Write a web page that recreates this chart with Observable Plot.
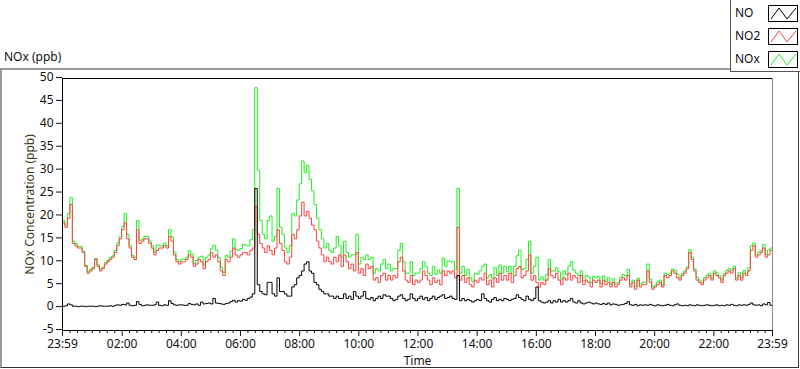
<!DOCTYPE html>
<html><head><meta charset="utf-8">
<script src="https://cdn.jsdelivr.net/npm/d3@7"></script>
<script src="https://cdn.jsdelivr.net/npm/@observablehq/plot@0.6"></script>
<style>
body{margin:0;background:#fff;font-family:"Noto Sans",sans-serif;}
#wrap{position:relative;width:800px;height:369px;overflow:hidden;background:#fff;}
#panel{position:absolute;left:0;top:68px;width:799px;height:300px;border-top:2px solid #9a9a9a;border-left:2px solid #9a9a9a;border-right:1px solid #333;border-bottom:1px solid #333;box-sizing:border-box;}
#title{position:absolute;left:4px;top:48px;font-size:12px;color:#111;}
#legend{position:absolute;left:730px;top:0;width:70px;height:72px;border-left:1px solid #555;border-bottom:1px solid #555;background:#fff;box-sizing:border-box;}
.lrow{position:absolute;left:4px;font-size:12px;color:#111;}
.lbox{position:absolute;left:37px;width:30px;height:17px;border:1px solid #000;box-sizing:border-box;background:#fff;}
#plot{position:absolute;left:0;top:0;}
</style>
</head><body>
<div id="wrap">
  <div id="panel"></div>
  <div id="title">NOx (ppb)</div>
  <div id="plot"></div>
  <div id="legend"></div>
</div>
<script>
// 5-minute readings starting at 23:59 (one row per hour)
const STEP_MIN = 5;
const NO2 = [
18.5,17.5,19.5,22.5,14,13.5,13,13,12,9,7.5,8,
8.5,10.5,9,8,8.5,9.5,10,10.5,11,12,13.5,15,
17,18.5,15,13,11,10.5,17,14,14.5,15,15,14,
13,11.5,12.5,13,13,13.5,13,15.5,14.5,11.5,10,9.5,
10,10,10.5,11.5,11,9,9.5,10.5,10,8.5,10,10.5,
12,11,11.5,10,8,7,10.5,10,11,13,11.5,11,
11.5,12,12,11.5,12.5,13,22,16,14,13,12,13.5,
12.5,11.5,13,17,14,12.5,10,9.5,11,16,15,17,
20,23,20,21,19.5,18,17,14.5,13,11.5,10,11,
10,9.5,11,10,11.5,9,11.5,10,8.5,9.5,8,12,
7.5,8.5,7,9.5,8.5,9,6,6.5,5.5,7,7.5,6,
7,6,7,6.5,10,11,8,6,5.5,7,5,6,
5.5,6,8,7,6,5,6.5,5.5,6,5,8,7,
8,7.5,8,6.5,17.5,6,7,5.5,6.5,5,4.5,6,
5.5,6.5,6,7.5,5,6,4.5,6.5,5.5,7.5,6,7,
6,7.5,5.5,7,8.5,9,6.5,7,8,11.5,6,7,
5.5,4.5,5.5,5,6,8.5,7,6.5,7.5,6,5,6.5,
6,7.5,6,7,6.5,5.5,7,5,6,5.5,4.5,6,
5.5,6,4.5,6,5,5.5,4.5,5.5,4.5,5,6,6.5,
6,7,4.5,5.5,4,6,4.5,5,5,8,5.5,4,
4.5,5,5.5,4.5,7,6.5,7,8,7.5,6.5,6,7,
7.5,8.5,12,10.5,8,6,5.5,5,6,6.5,7,6,
7.5,7,6.5,5.5,7,7.5,8,7.5,8.5,6,7,6,
7.5,7,8,12.5,13.5,11,11.5,12,13,11,11.5,12.5,
12];
const NO = [
0.3,0.4,0.8,0.6,0.3,0.3,0.2,0.3,0.3,0.2,0.3,0.3,
0.3,0.2,0.3,0.4,0.3,0.3,0.3,0.4,0.3,0.5,0.6,0.5,
0.7,0.6,1.0,0.5,0.4,0.5,1.3,0.7,0.4,0.5,0.6,0.5,
0.5,0.6,1.2,0.5,0.4,0.6,0.5,1.5,0.9,0.6,0.5,0.6,
0.6,0.5,0.5,0.9,0.7,0.6,0.8,0.5,1.2,0.8,0.9,1.0,
0.8,2.0,1.0,0.9,0.8,0.7,0.9,1.0,1.3,1.6,1.2,1.5,
1.4,1.8,1.6,2.0,2.3,3.0,26,5,3.5,3,2.8,5.5,
5.5,3,2.5,6.5,3.5,3.5,3,2.5,2.5,4.5,5,6.5,
7,8,9.5,10,8,7.5,5.5,5,4,3.5,3,3,
2.5,2.5,2,2.5,2,2,3,2,2.5,1.8,3.5,2.5,
2,2.5,3.5,2,1.8,2.2,1.5,2,2.5,2,2.8,2.5,
2.5,2,1.5,1.8,2.5,2.8,2,1.5,1.8,3,2,1.5,
2,2.5,1.8,2.2,1.5,2,2.5,1.8,2.2,2.5,2.8,2,
2.2,2.5,2,1.8,7,1.5,2,1.5,1.8,1.5,1.2,1.5,
1.8,1.5,3,2,1.5,1.2,1.8,2.2,1.5,1.8,1.5,2.0,
1.8,1.5,1.8,2,2.8,2.2,1.8,1.5,2.5,1.8,1.5,2,
4.5,1.5,1.2,1,1.2,1.5,1,1.5,1.2,1.8,1.2,1.5,
1.2,1.5,2,1.2,1,1.5,1,0.8,1,1.2,1,0.8,
1,0.8,0.7,0.9,0.7,1,0.6,0.8,0.7,0.5,0.6,0.7,
0.9,1.3,0.6,0.5,0.7,0.4,0.6,0.5,0.6,0.5,0.7,0.5,
0.4,0.6,0.5,0.4,0.5,0.7,0.5,0.4,0.6,0.8,0.5,0.4,
0.5,0.4,0.6,0.5,0.4,0.6,0.5,0.4,0.5,0.6,0.5,0.4,
0.5,0.6,0.4,0.5,0.4,0.6,0.5,0.7,0.5,0.4,0.6,0.5,
0.6,0.5,0.7,1.0,0.6,0.5,0.6,0.4,0.8,0.6,1.1,0.5,
0.5];
const NOX = [
19,18,20.5,24,14.5,14,13.3,13.3,12.3,9.2,7.8,8.3,
8.8,10.7,9.3,8.4,8.8,9.8,10.3,10.9,11.3,12.5,14.1,15.5,
17.7,20.5,16,13.5,11.4,11,19,14.7,14.9,15.5,15.6,14.5,
13.5,12.1,13.7,13.5,13.4,14.1,13.5,17,15.4,12.1,10.5,10.1,
10.6,10.5,11,12.4,11.7,9.6,10.3,11,11.2,9.3,10.9,11.5,
12.8,13.6,12.5,10.9,8.8,7.7,11.4,11,12.3,15,12.7,12.5,
12.9,13.8,13.6,13.5,14.8,17,48,30,19,16,15,19,
20,14.5,15.5,26,17.5,16,13,12,13.5,20.5,20,23.5,
27,32,29.5,31,28,25.5,22.5,19.5,17,15,13,14,
12.5,12,13,15.5,13.5,11,14.5,12,11,11.5,11.5,16,
9.5,11,10.5,11.5,10.5,11,7.5,8.5,8,9.5,10.5,8.5,
9.5,8,8.5,8.5,12.5,14,10,7.5,7.5,10,7,7.5,
7.5,8.5,10,9,7.5,7,9,7.3,8.2,7.5,10.8,9,
10.2,10,10,8.3,26,7.5,9,7,8.3,6.5,5.7,7.5,
7.3,8,9,9.5,6.5,7.2,6.3,8.7,7,9.3,7.5,9,
7.8,9,7.3,9,11.3,12.5,8.3,8.5,10.5,14.5,7.5,9,
11,6,6.7,6,7.2,10.5,8,8,8.7,7.8,6.2,8,
7.2,9,10,8.2,7.5,7,8,5.8,7,6.7,5.5,6.8,
6.5,6.8,5.2,6.9,5.7,6.5,5.1,6.3,5.2,5.5,6.6,7.2,
6.9,8.3,5.1,6,4.7,6.4,5.1,5.5,5.6,9.5,6.2,4.5,
4.9,5.6,6,4.9,7.5,7.2,7.5,8.4,8.1,7.3,6.5,7.4,
8,8.9,12.6,11,8.4,6.6,6,5.4,6.5,7.1,7.5,6.4,
8,7.6,6.9,6,7.4,8.1,8.5,8.2,9,6.4,7.6,6.5,
8.1,7.5,8.7,13.5,14.1,11.5,12.1,12.4,13.8,11.6,12.6,13,
12.5];

const seriesNames = ["NO", "NO2", "NOx"];
const seriesColors = ["#000000", "#ff4040", "#1ef01e"];

const xTickMinutes = [0,121,241,361,481,601,721,841,961,1081,1201,1321,1440];
const xTickLabels = ["23:59","02:00","04:00","06:00","08:00","10:00","12:00","14:00","16:00","18:00","20:00","22:00","23:59"];
const yTicks = [-5,0,5,10,15,20,25,30,35,40,45,50];

const rows = [];
[["NOx", NOX], ["NO2", NO2], ["NO", NO]].forEach(([name, arr]) =>
  arr.forEach((v, i) => rows.push({series: name, t: i * STEP_MIN, v})));

const labelMap = new Map(xTickMinutes.map((m, i) => [m, xTickLabels[i]]));
const minor = [];
for (let i = 0; i < xTickMinutes.length - 1; i++) {
  const a = xTickMinutes[i], b = xTickMinutes[i + 1];
  for (let k = 1; k < 8; k++) minor.push(a + (b - a) * k / 8);
}

const chart = Plot.plot({
  width: 800, height: 369,
  marginLeft: 62, marginRight: 28, marginTop: 78, marginBottom: 39,
  style: {background: "transparent", fontFamily: "Noto Sans", fontSize: "12px", color: "#111", overflow: "visible"},
  x: {domain: [0, 1440], label: null, axis: null},
  y: {domain: [-5, 50], label: null, axis: null},
  color: {domain: seriesNames, range: seriesColors},
  marks: [
    Plot.line(rows, {x: "t", y: "v", z: "series", stroke: "series", curve: "step-after", strokeWidth: 1}),
    Plot.frame({stroke: "#000"}),
    Plot.ruleX([1440], {stroke: "#8a8a8a"}),
    Plot.axisY(yTicks, {anchor: "left", tickSize: 6, tickPadding: 3, dy: -1, tickFormat: d => String(d), fontSize: 12, label: null}),
    Plot.axisX(xTickMinutes, {anchor: "bottom", tickSize: 6, tickPadding: 3, tickFormat: d => labelMap.get(d), fontSize: 12, label: null}),
    Plot.axisX(minor, {anchor: "bottom", tickSize: 3, tickFormat: () => "", label: null}),
    Plot.text(["Time"], {frameAnchor: "bottom", dy: 34, fontSize: 12, fill: "#111"}),
    Plot.text(["NOx Concentration (ppb)"], {frameAnchor: "left", dx: -32, rotate: -90, textAnchor: "middle", fontSize: 12, fill: "#3a3520"})
  ]
});
document.getElementById("plot").appendChild(chart);

// legend
const legend = document.getElementById("legend");
const legendRows = [["NO", seriesColors[0]], ["NO2", seriesColors[1]], ["NOx", seriesColors[2]]];
legendRows.forEach(([name, color], i) => {
  const cy = 13 + i * 23;
  const t = document.createElement("div");
  t.className = "lrow"; t.textContent = name;
  t.style.top = (cy - 9) + "px";
  legend.appendChild(t);
  const b = document.createElement("div");
  b.className = "lbox"; b.style.top = (cy - 8) + "px";
  b.innerHTML = `<svg width="28" height="15" style="display:block"><polyline points="2,13 10,2 18,13 27,2" fill="none" stroke="${color}" stroke-width="1"/></svg>`;
  legend.appendChild(b);
});
</script>
</body></html>
